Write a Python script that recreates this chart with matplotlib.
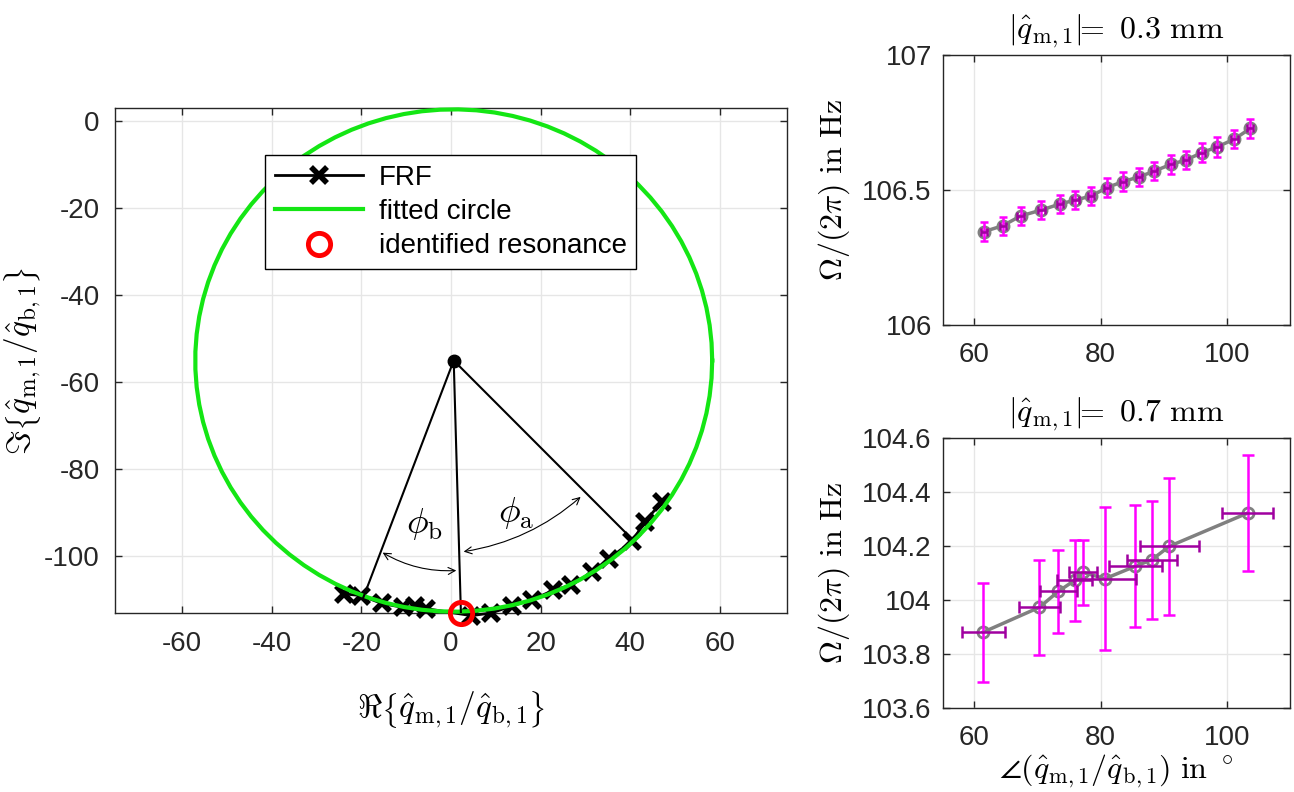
import matplotlib
matplotlib.use("Agg")
import matplotlib.pyplot as plt
import numpy as np
from matplotlib.patches import FancyArrowPatch
from matplotlib.ticker import FuncFormatter

# ---- left panel: FRF in the complex plane ----
frf_re = [-24.0, -20.0, -15.5, -10.8, -8.0, -5.5, 4.5, 9.0, 13.5, 18.0,
          22.8, 26.8, 31.5, 35.3, 40.5, 43.3, 47.0]
frf_im = [-108.6, -109.0, -110.8, -111.7, -111.5, -112.0, -113.6, -113.0,
          -111.4, -110.0, -107.8, -106.6, -103.6, -100.5, -96.4, -92.0, -87.5]

circle_center = (0.6, -55.0)
circle_radius = 57.7
resonance = (2.2, -113.0)

# end points of the three radius lines (left, resonance, right)
radius_end_re = [-19.6, 2.2, 40.0]
radius_end_im = [-109.5, -112.8, -95.6]

# arc end points for the two angles
phi_b_arc = [(-15.8, -98.8), (1.8, -103.2)]
phi_a_arc = [(2.2, -99.0), (29.4, -85.9)]
phi_b_text = (-6.0, -92.5)
phi_a_text = (14.5, -90.0)

# ---- right panels: resonance frequency vs. phase ----
angle_03 = [61.5, 64.5, 67.3, 70.6, 73.5, 76.0, 78.5, 81.0, 83.5, 86.1,
            88.5, 91.1, 93.5, 96.0, 98.5, 101.2, 103.7]
freq_03 = [106.346, 106.368, 106.404, 106.426, 106.448, 106.463, 106.478,
           106.509, 106.531, 106.549, 106.570, 106.595, 106.611, 106.638,
           106.660, 106.689, 106.728]
freq_err_03 = [0.035, 0.033, 0.035, 0.034, 0.034, 0.034, 0.034, 0.035, 0.035,
               0.034, 0.034, 0.035, 0.033, 0.035, 0.036, 0.033, 0.034]
angle_err_03 = [0.5] * 17

angle_07 = [61.4, 70.3, 73.3, 75.9, 77.2, 80.7, 85.5, 88.1, 90.9, 103.3]
freq_07 = [103.881, 103.973, 104.032, 104.073, 104.102, 104.079, 104.125,
           104.149, 104.199, 104.322]
freq_err_07 = [0.183, 0.175, 0.153, 0.150, 0.121, 0.264, 0.226, 0.218, 0.254, 0.216]
angle_err_07 = [3.4, 3.2, 2.9, 2.8, 2.2, 4.9, 4.2, 4.0, 4.7, 4.0]

GREEN = "#14e614"
GRAY = (0.5, 0.5, 0.5)
MAGENTA = "#ff00ff"
DARK_MAGENTA = "#a000a0"
AXCOL = (0.15, 0.15, 0.15)

plt.rcParams["font.family"] = ["Liberation Sans", "DejaVu Sans"]
plt.rcParams["mathtext.fontset"] = "cm"
plt.rcParams["font.size"] = 20
plt.rcParams["axes.unicode_minus"] = False


def style_axes(ax, xpad=12, ypad=8):
    ax.grid(True, color=(0.9, 0.9, 0.9), lw=1.0)
    ax.set_axisbelow(True)
    for s in ax.spines.values():
        s.set_color(AXCOL)
        s.set_linewidth(1.0)
    ax.tick_params(direction="in", length=5, width=1.0, colors=AXCOL,
                   top=True, right=True, labelsize=20)
    ax.tick_params(axis="x", pad=xpad)
    ax.tick_params(axis="y", pad=ypad)


fig = plt.figure(figsize=(12.94, 7.92), dpi=100)

# ---------------- left ----------------
ax = fig.add_axes([0.0889, 0.226, 0.5193, 0.6376])
ax.plot(frf_re, frf_im, color="k", lw=2, marker="x", ms=11, mew=4,
        label="FRF", zorder=3, clip_on=False)
t = np.linspace(0, 2 * np.pi, 90)
ax.plot(circle_center[0] + circle_radius * np.cos(t),
        circle_center[1] + circle_radius * np.sin(t),
        color=GREEN, lw=3, label="fitted circle", zorder=4, clip_on=False)
for xe, ye in zip(radius_end_re, radius_end_im):
    ax.plot([circle_center[0], xe], [circle_center[1], ye], color="k", lw=1.5, zorder=5)
ax.plot(*circle_center, "o", color="k", ms=9, zorder=6)
ax.plot(*resonance, "o", mfc="none", mec="red", mew=3.5, ms=16,
        label="identified resonance", zorder=7, clip_on=False)

for (pa, pb), rad in [(phi_b_arc, 0.16), (phi_a_arc, 0.15)]:
    ax.add_patch(FancyArrowPatch(pa, pb, connectionstyle=f"arc3,rad={rad}",
                                 arrowstyle="<->,head_length=5,head_width=2.5",
                                 color="k", lw=0.8, zorder=6))
ax.text(*phi_b_text, r"$\phi_\mathrm{b}$", fontsize=26, ha="center", va="center")
ax.text(*phi_a_text, r"$\phi_\mathrm{a}$", fontsize=26, ha="center", va="center")

ax.set_xlim(-75, 75)
ax.set_ylim(-113, 3)
ax.set_xticks([-60, -40, -20, 0, 20, 40, 60])
ax.set_yticks([-100, -80, -60, -40, -20, 0])
style_axes(ax, xpad=13, ypad=11)
ax.set_xlabel(r"$\Re\left\{\hat{q}_{\mathrm{m},1}/\hat{q}_{\mathrm{b},1}\right\}$",
              fontsize=24)
ax.set_ylabel(r"$\Im\left\{\hat{q}_{\mathrm{m},1}/\hat{q}_{\mathrm{b},1}\right\}$",
              fontsize=24)
ax.xaxis.set_label_coords(0.5, -0.15)
ax.yaxis.set_label_coords(-0.107, 0.5)
leg = ax.legend(loc="upper left", bbox_to_anchor=(0.223, 0.907), fontsize=20,
                frameon=True, fancybox=False, edgecolor="k", framealpha=1,
                handlelength=3.2, handletextpad=0.55, labelspacing=0.3,
                borderpad=0.35, borderaxespad=0)
leg.get_frame().set_linewidth(1.0)

# ---------------- right ----------------
fmt = FuncFormatter(lambda v, p: f"{v:g}")


def freq_panel(rect, ang, frq, ferr, aerr, ylim, yticks, title, cap):
    a = fig.add_axes(rect)
    a.plot(ang, frq, color=GRAY, lw=2.5, marker="o", ms=8, mfc="none",
           mec=GRAY, mew=2, zorder=3)
    a.errorbar(ang, frq, yerr=ferr, fmt="none", ecolor=MAGENTA, elinewidth=1.8,
               capsize=cap, capthick=1.8, zorder=4)
    a.errorbar(ang, frq, xerr=aerr, fmt="none", ecolor=DARK_MAGENTA, elinewidth=1.8,
               capsize=cap, capthick=1.8, zorder=5)
    a.set_xlim(55, 110)
    a.set_ylim(*ylim)
    a.set_xticks([60, 80, 100])
    a.set_yticks(yticks)
    a.yaxis.set_major_formatter(fmt)
    style_axes(a, xpad=12, ypad=8)
    a.set_title(title, fontsize=23, pad=12)
    a.set_ylabel(r"$\Omega/(2\pi)\ \mathrm{in\ Hz}$", fontsize=23)
    a.yaxis.set_label_coords(-0.262, 0.5)
    return a


freq_panel([0.7287, 0.5896, 0.2682, 0.3409], angle_03, freq_03, freq_err_03,
           angle_err_03, (106, 107), [106, 106.5, 107],
           r"$|\hat{q}_{\mathrm{m},1}|\!\!=\ 0.3\ \mathrm{mm}$", 3)
ab = freq_panel([0.7287, 0.1061, 0.2682, 0.3409], angle_07, freq_07, freq_err_07,
                angle_err_07, (103.6, 104.6),
                [103.6, 103.8, 104, 104.2, 104.4, 104.6],
                r"$|\hat{q}_{\mathrm{m},1}|\!\!=\ 0.7\ \mathrm{mm}$", 4)
ab.set_xlabel(r"$\angle(\hat{q}_{\mathrm{m},1}/\hat{q}_{\mathrm{b},1})\ \mathrm{in}\ ^\circ$",
              fontsize=23)
ab.xaxis.set_label_coords(0.5, -0.165)

fig.savefig("out.png", dpi=100, facecolor="white")
